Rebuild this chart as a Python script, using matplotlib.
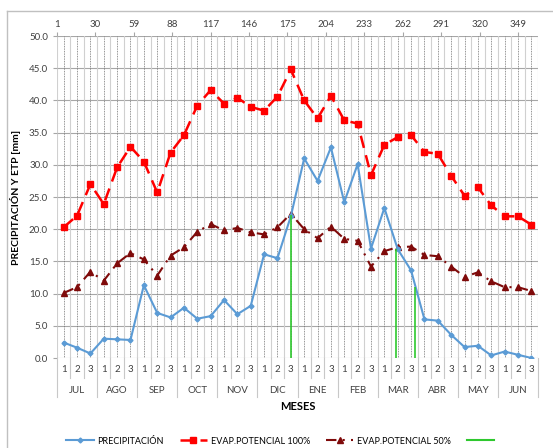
import numpy as np
from matplotlib import pyplot as plt

plt.rcParams['font.family'] = ['Lato', 'DejaVu Sans']

months = ['JUL', 'AGO', 'SEP', 'OCT', 'NOV', 'DIC', 'ENE', 'FEB', 'MAR', 'ABR', 'MAY', 'JUN']
dekads = ['1', '2', '3'] * 12

precip = [2.4, 1.6, 0.7, 3.0, 2.9, 2.8, 11.3, 7.0, 6.3, 7.8, 6.1, 6.5,
          9.0, 6.8, 8.1, 16.1, 15.5, 22.0, 31.0, 27.5, 32.7, 24.2, 30.1, 17.0,
          23.3, 16.9, 13.6, 6.0, 5.8, 3.6, 1.7, 1.9, 0.4, 1.0, 0.5, 0.0]
etp100 = [20.3, 22.1, 27.0, 23.9, 29.6, 32.8, 30.5, 25.7, 31.9, 34.6, 39.2, 41.6,
          39.5, 40.4, 39.0, 38.4, 40.6, 44.8, 40.0, 37.2, 40.7, 36.9, 36.4, 28.4,
          33.1, 34.3, 34.6, 32.0, 31.7, 28.3, 25.2, 26.5, 23.7, 22.0, 22.0, 20.7]
etp50 = [10.1, 11.0, 13.4, 12.0, 14.7, 16.3, 15.3, 12.8, 15.9, 17.2, 19.6, 20.8,
         19.8, 20.2, 19.5, 19.2, 20.3, 22.4, 20.0, 18.6, 20.4, 18.5, 18.2, 14.2,
         16.6, 17.2, 17.3, 16.0, 15.8, 14.2, 12.6, 13.3, 11.9, 11.0, 11.0, 10.4]

# green markers, in days of the hydrological year (top axis)
green_days = [178, 257, 271]
green_tops = [22.2, 16.9, 11.1]
day_ticks = list(range(1, 350, 29))

fig = plt.figure(figsize=(5.53, 4.48), dpi=100)
ax = fig.add_axes([57 / 553, 1 - 358 / 448, 481 / 553, 322 / 448])

x = np.arange(len(precip))
n = len(x)

# grid
for v in np.arange(0, 50.1, 5):
    ax.axhline(v, color='#a6a6a6', lw=0.8, zorder=0)
for b in np.arange(-0.5, n, 1):
    ax.axvline(b, color='#d0d0d0', lw=0.8, zorder=0)
for c in x:
    ax.axvline(c, color='#707070', lw=0.6, ls=(0, (1, 1)), zorder=0)

l1, = ax.plot(x, precip, color='#5b9bd5', lw=1.5, marker='D', ms=2.5, zorder=4)
l2, = ax.plot(x, etp100, color='#ff0000', lw=1.8, ls=(0, (5, 3)), marker='s', ms=4.5, zorder=3)
l3, = ax.plot(x, etp50, color='#7f0a0a', lw=1.5, ls=(0, (5, 3, 1, 3)), marker='^', ms=4.5, zorder=3)

ax.set_xlim(-0.5, n - 0.5)
ax.set_ylim(0, 50)
ax.set_yticks(np.arange(0, 50.1, 5))
ax.set_yticklabels(['%.1f' % v for v in np.arange(0, 50.1, 5)])
ax.tick_params(axis='y', labelsize=7, length=3, color='#a6a6a6', labelcolor='#404040')
ax.set_xticks(x)
ax.set_xticklabels(dekads)
ax.tick_params(axis='x', labelsize=7, length=0, pad=5, labelcolor='#404040')
for s in ax.spines.values():
    s.set_visible(False)

# two level category axis
tr = ax.get_xaxis_transform()
for b in np.arange(-0.5, n, 1):
    low = -0.121 if (b + 0.5) % 3 == 0 else -0.062
    ax.plot([b, b], [0, low], color='#c8c8c8', lw=0.8, transform=tr, clip_on=False)
for i, m in enumerate(months):
    ax.text(3 * i + 1, -0.102, m, transform=tr, ha='center', va='center', fontsize=7, color='#404040')
ax.text((n - 1) / 2, -0.152, 'MESES', transform=tr, ha='center', va='center', fontsize=8, fontweight='bold')
ax.set_ylabel('PRECIPITACIÓN Y ETP [mm]', fontsize=7.5, fontweight='bold', labelpad=6)

# top axis in days
ax2 = ax.twiny()
ax2.set_xlim(1, 364.1)
ax2.set_xticks(day_ticks)
ax2.tick_params(axis='x', labelsize=7, length=3, color='#a6a6a6', labelcolor='#404040', pad=2)
for s in ax2.spines.values():
    s.set_visible(False)
l4 = ax2.vlines(green_days, 0, green_tops, color='#2ec82e', lw=1.2, zorder=5)

fig.legend([l1, l2, l3, plt.Line2D([], [], color='#2ec82e', lw=1.5)],
           ['PRECIPITACIÓN', 'EVAP.POTENCIAL 100%', 'EVAP.POTENCIAL 50%', ''],
           loc='center', bbox_to_anchor=(0.51, 1 - 441 / 448), ncol=4, frameon=False,
           fontsize=6.5, handlelength=3, columnspacing=1.8, handletextpad=0.4)

# chart area border
fig.add_artist(plt.Line2D([7 / 553, 1], [1 - 11 / 448, 1 - 11 / 448], color='#c0c0c0', lw=1))
fig.add_artist(plt.Line2D([7 / 553, 7 / 553], [0, 1 - 11 / 448], color='#c0c0c0', lw=1))

fig.savefig('out.png', dpi=100)
